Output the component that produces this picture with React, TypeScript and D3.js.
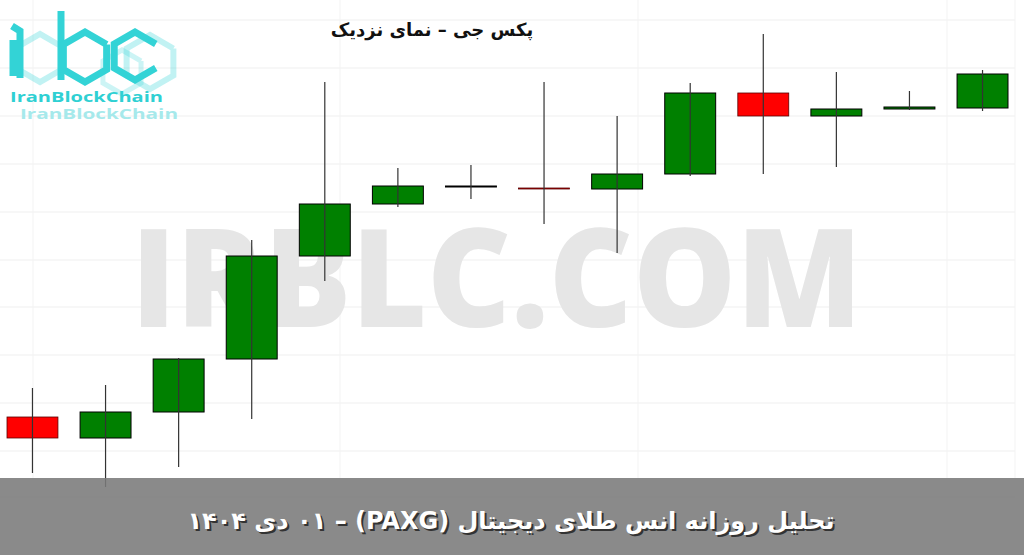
import React from "react";
import * as d3 from "d3";

// Daily candles (PAXG, USD)
const dates = ["12-09", "12-10", "12-11", "12-12", "12-13", "12-14", "12-15", "12-16", "12-17", "12-18", "12-19", "12-20", "12-21", "12-22"];
const opens = [4331.5, 4321, 4334, 4360.5, 4412, 4438, 4446.5, 4446, 4445.5, 4453, 4493.5, 4482, 4485.5, 4486];
const highs = [4346, 4347.5, 4361, 4420, 4499, 4456, 4457.5, 4499, 4482, 4498.5, 4523, 4504, 4494.5, 4505];
const lows = [4303.5, 4296.5, 4306.5, 4330.5, 4399.5, 4436.5, 4440.5, 4428, 4413.5, 4452, 4453, 4456.5, 4485, 4484.5];
const closes = [4321, 4334, 4360.5, 4412, 4438, 4447, 4447, 4445.5, 4453, 4493.5, 4482, 4485.5, 4486.5, 4503];

const gridY = [20, 68, 116, 164, 212, 260, 307, 355, 403, 451, 497];
const gridX = [33, 340, 638, 947, 1015];

const chartTitle = "پکس جی – نمای نزدیک";
const bannerText = "تحلیل روزانه  انس طلای دیجیتال (PAXG) – ۰۱ دی ۱۴۰۴";
const watermark = "IRBLC.COM";
const brand = "IranBlockChain";

const W = 1024;
const H = 555;

export default function App() {
  const x = d3.scaleBand<number>().domain(d3.range(dates.length)).range([7, 1008]).paddingInner(0.303).paddingOuter(0);
  const y = d3.scaleLinear().domain([4300, 4500]).range([480, 80]);
  const bw = x.bandwidth();

  const hex = (cx: number, cy: number, r: number, open = false) => {
    const pts: [number, number][] = [];
    const angles = open ? [-30, -90, -150, 150, 90, 30] : [-30, -90, -150, 150, 90, 30, -30];
    angles.forEach((a) => {
      const rad = (a * Math.PI) / 180;
      pts.push([cx + r * Math.cos(rad), cy + r * Math.sin(rad)]);
    });
    return d3.line()(pts) as string;
  };

  const cyan = "#33d3d6";

  return (
    <svg width={W} height={H} style={{ position: "fixed", left: 0, top: 0, background: "#fff" }}>
      <rect x={0} y={0} width={W} height={H} fill="#ffffff" />
      {/* grid */}
      {gridY.map((g, i) => (
        <line key={"gy" + i} x1={0} x2={1015} y1={g} y2={g} stroke="#efefef" strokeWidth={1} />
      ))}
      {gridX.map((g, i) => (
        <line key={"gx" + i} x1={g} x2={g} y1={0} y2={500} stroke="#f3f3f3" strokeWidth={1} />
      ))}

      {/* watermark */}
      <text
        x={131}
        y={327}
        fontFamily="'Open Sans', 'DejaVu Sans', sans-serif"
        fontWeight={800}
        fontSize={136}
        fill="#e6e6e6"
        textLength={731}
        lengthAdjust="spacingAndGlyphs"
      >
        {watermark}
      </text>

      {/* logo */}
      <g fill="none" strokeLinejoin="miter">
        <path d={hex(40, 58, 24)} stroke={cyan} strokeOpacity={0.3} strokeWidth={6} />
        <path d={hex(150, 62, 27)} stroke={cyan} strokeOpacity={0.3} strokeWidth={6} />
        <path d={hex(122, 72, 22)} stroke={cyan} strokeOpacity={0.25} strokeWidth={5} />
        <path d="M12,26 L20,31 L20,78 M13,40 L13,76" stroke={cyan} strokeWidth={7} />
        <path d="M61,11 L61,80" stroke={cyan} strokeWidth={7} />
        <path d={hex(85, 57, 25)} stroke={cyan} strokeWidth={7} />
        <path d={hex(135, 56, 24, true)} stroke={cyan} strokeWidth={7} />
      </g>
      <text x={10} y={102} fontFamily="'Open Sans', sans-serif" fontWeight={700} fontSize={15} fill="#2fd0d3" textLength={153} lengthAdjust="spacingAndGlyphs">
        {brand}
      </text>
      <text x={20} y={119} fontFamily="'Open Sans', sans-serif" fontWeight={700} fontSize={14} fill="#a6e9eb" textLength={158} lengthAdjust="spacingAndGlyphs">
        {brand}
      </text>

      {/* title */}
      <text x={432} y={36} textAnchor="middle" direction="rtl" fontFamily="'DejaVu Sans', sans-serif" fontWeight={700} fontSize={18} fill="#111">
        {chartTitle}
      </text>

      {/* candles */}
      {dates.map((d, i) => {
        const up = closes[i] >= opens[i];
        const top = y(Math.max(opens[i], closes[i]));
        const bot = y(Math.min(opens[i], closes[i]));
        const cx = (x(i) as number) + bw / 2;
        return (
          <g key={d}>
            <rect
              x={x(i) as number}
              y={top}
              width={bw}
              height={Math.max(bot - top, 0.5)}
              fill={up ? "#008000" : "#ff0000"}
              stroke={up ? "#000" : "#5a0000"}
              strokeWidth={up ? 1 : 0.8}
            />
            <line x1={cx} x2={cx} y1={y(highs[i])} y2={y(lows[i])} stroke="#333" strokeWidth={1.2} />
          </g>
        );
      })}

      {/* banner */}
      <rect x={0} y={478} width={W} height={H - 478} fill="#7a7a7a" fillOpacity={0.88} />
      <text x={513} y={531} textAnchor="middle" direction="rtl" fontFamily="'DejaVu Sans', sans-serif" fontWeight={700} fontSize={24} fill="#333">
        {bannerText}
      </text>
      <text x={511} y={529} textAnchor="middle" direction="rtl" fontFamily="'DejaVu Sans', sans-serif" fontWeight={700} fontSize={24} fill="#ffffff">
        {bannerText}
      </text>
    </svg>
  );
}
